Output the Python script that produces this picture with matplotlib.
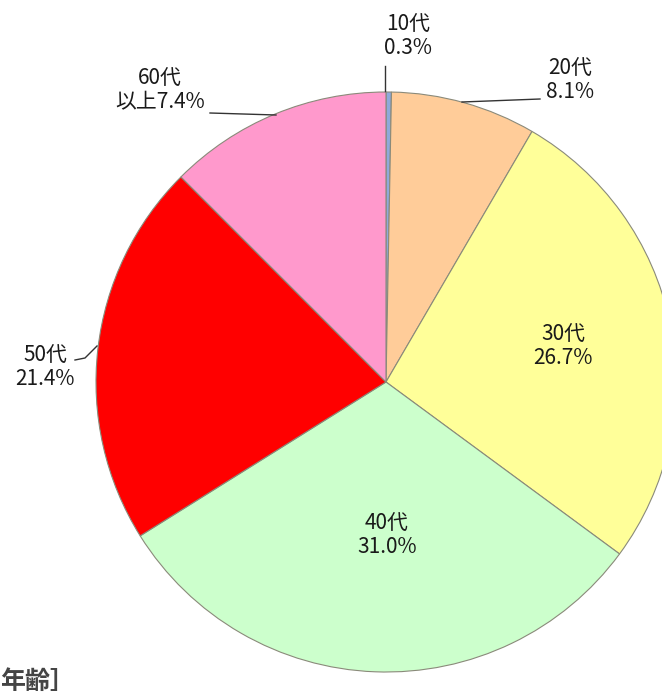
import matplotlib
matplotlib.use("Agg")
import matplotlib.pyplot as plt

plt.rcParams['font.family'] = ['Noto Sans CJK JP', 'DejaVu Sans']

categories = ["10代", "20代", "30代", "40代", "50代", "60代\n以上"]
values = [0.3, 8.1, 26.7, 31.0, 21.4, 12.5]
pct_labels = ["0.3%", "8.1%", "26.7%", "31.0%", "21.4%", "7.4%"]
colors = ["#8EA9DB", "#FFCC99", "#FFFF99", "#CCFFCC", "#FF0000", "#FF99CC"]

W, H = 662, 698
fig = plt.figure(figsize=(W / 100, H / 100), dpi=100)
ax = fig.add_axes([0, 0, 1, 1])
ax.set_xlim(0, W)
ax.set_ylim(0, H)
ax.set_aspect('equal')
ax.axis('off')

cx, cy, R = 386, H - 382, 290
wedges, _ = ax.pie(values, colors=colors, startangle=90, counterclock=False,
                   center=(cx, cy), radius=R, frame=True,
                   wedgeprops=dict(edgecolor="#8a8a7a", linewidth=0.8))
ax.set_xlim(0, W)
ax.set_ylim(0, H)
ax.axis('off')

fs = 15
tc = "#1a1a1a"

def lab(i, x, y, ha="center"):
    if i == 5:
        txt = "60代\n以上" + pct_labels[5]
    else:
        txt = categories[i] + "\n" + pct_labels[i]
    ax.text(x, H - y, txt, ha=ha, va="center", fontsize=fs, color=tc,
            linespacing=1.15)

# inside labels
lab(2, 563, 346)
lab(3, 387, 535)
# outside labels
lab(0, 408, 36)
lab(1, 570, 80)
lab(4, 45, 367)
lab(5, 160, 90)

lc = "#333333"
ax.plot([385, 385], [H - 66, H - 91], color=lc, lw=1)
ax.plot([462, 540], [H - 102, H - 99], color=lc, lw=1)
ax.plot([210, 276], [H - 113, H - 115], color=lc, lw=1)
ax.plot([75, 85, 97], [H - 360, H - 358, H - 346], color=lc, lw=1)

ax.text(0, H - 682, "年齢］", ha="left", va="center", fontsize=18,
        fontweight="bold", color="#444444")

fig.savefig("out.png", dpi=100)
